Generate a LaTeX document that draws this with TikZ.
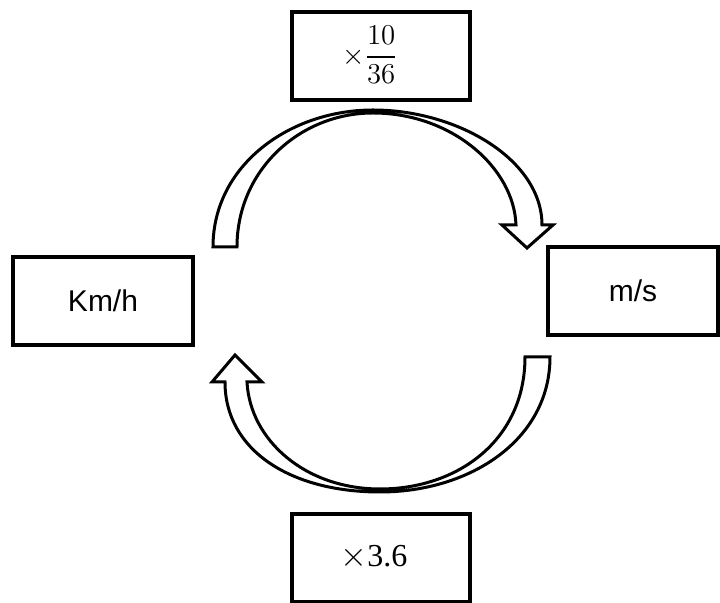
\documentclass[tikz,border=0pt]{standalone}
\usepackage{amsmath}
\usepackage{fontspec}
\setsansfont{Liberation Sans}
\newfontfamily\timesfont{Liberation Serif}
\usetikzlibrary{positioning}

\begin{document}
\begin{tikzpicture}[
  x=0.5pt, y=-0.5pt,
  unitbox/.style={draw, line width=1.7pt, minimum width=90pt, minimum height=44pt, align=center, inner sep=0pt},
  bigarrow/.style={draw, line width=1.5pt, fill=white, line join=miter}
]
\useasboundingbox (0,0) rectangle (720,603);

% unit boxes and factor boxes
\node[unitbox, font=\sffamily\fontsize{15}{18}\selectfont] (kmh) at (103,301) {Km/h};
\node[unitbox, minimum width=85pt, font=\sffamily\fontsize{15}{18}\selectfont] (ms) at (633,291) {m/s};
\node[unitbox, minimum width=89pt] (tofrac) at (381,56) {};
\node[font=\fontsize{14}{16}\selectfont] at (370,55) {$\times\dfrac{10}{36}$};
\node[unitbox, minimum width=89pt] (tothree) at (381,558) {};
\node[font=\timesfont\fontsize{16}{18}\selectfont] at (374,557) {$\times$3.6};

% curved block arrow: Km/h -> m/s
\draw[bigarrow] (213,247) .. controls (213,165) and (290,110) .. (373,110)
  .. controls (458,110) and (542,160) .. (542,225)
  -- (553,225) -- (527,248) -- (502,225) -- (516,225)
  .. controls (514,168) and (452,113) .. (373,113)
  .. controls (300,113) and (237,170) .. (237,247) -- cycle;

% curved block arrow: m/s -> Km/h
\draw[bigarrow] (525,357) -- (550,357)
  .. controls (550,440) and (470,492) .. (380,492)
  .. controls (290,492) and (225,450) .. (225,382)
  -- (212,382) -- (235,355) -- (262,382) -- (247,382)
  .. controls (250,440) and (305,489) .. (380,489)
  .. controls (458,489) and (525,440) .. (525,357) -- cycle;

\end{tikzpicture}
\end{document}
